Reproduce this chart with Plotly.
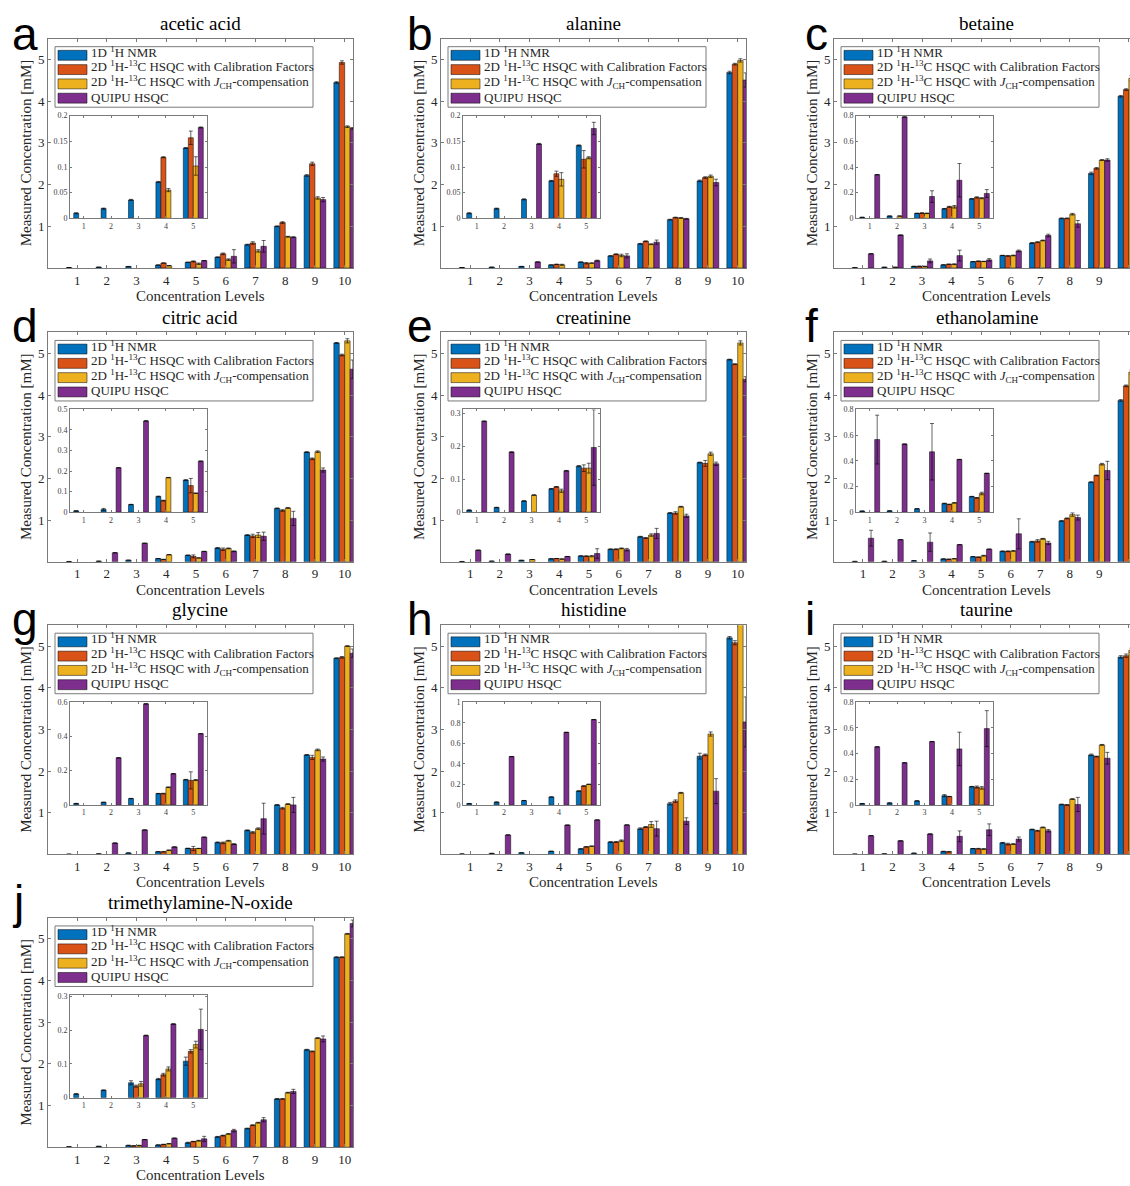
import plotly.graph_objects as go

# ---------------- data ----------------
N = None
levels = [1, 2, 3, 4, 5, 6, 7, 8, 9, 10]
inset_levels = [1, 2, 3, 4, 5]
main_yticks = [1, 2, 3, 4, 5]

series_names = [
    "1D <sup>1</sup>H NMR",
    "2D <sup>1</sup>H-<sup>13</sup>C HSQC with Calibration Factors",
    "2D <sup>1</sup>H-<sup>13</sup>C HSQC with <i>J</i><sub>CH</sub>-compensation",
    "QUIPU HSQC",
]

# a: acetic acid
acetic_nmr = [0.010, 0.019, 0.036, 0.071, 0.137, 0.26, 0.56, 1.00, 2.22, 4.45]
acetic_cal = [N, N, N, 0.119, 0.157, 0.34, 0.60, 1.09, 2.50, 4.93]
acetic_jch = [N, N, N, 0.055, 0.102, 0.20, 0.41, 0.75, 1.68, 3.39]
acetic_quipu = [N, N, N, N, 0.177, 0.28, 0.52, 0.74, 1.64, 3.35]
acetic_nmr_err = [0.001, 0.001, 0.001, 0.001, 0.001, 0.005, 0.01, 0.01, 0.02, 0.02]
acetic_cal_err = [0, 0, 0, 0.001, 0.013, 0.02, 0.03, 0.02, 0.04, 0.04]
acetic_jch_err = [0, 0, 0, 0.003, 0.018, 0.02, 0.03, 0.01, 0.03, 0.02]
acetic_quipu_err = [0, 0, 0, 0, 0.001, 0.16, 0.14, 0.01, 0.05, 0.02]

# b: alanine
alanine_nmr = [0.010, 0.019, 0.037, 0.073, 0.142, 0.29, 0.58, 1.16, 2.09, 4.69]
alanine_cal = [N, N, N, 0.087, 0.115, 0.33, 0.64, 1.21, 2.17, 4.89]
alanine_jch = [N, N, N, 0.076, 0.118, 0.30, 0.57, 1.20, 2.20, 4.98]
alanine_quipu = [N, N, 0.145, N, 0.175, 0.29, 0.62, 1.18, 2.05, 4.51]
alanine_nmr_err = [0.001, 0.001, 0.001, 0.001, 0.001, 0.005, 0.01, 0.01, 0.02, 0.03]
alanine_cal_err = [0, 0, 0, 0.005, 0.017, 0.01, 0.01, 0.01, 0.02, 0.02]
alanine_jch_err = [0, 0, 0, 0.013, 0.002, 0.03, 0.01, 0.01, 0.03, 0.04]
alanine_quipu_err = [0, 0, 0.001, 0, 0.012, 0.05, 0.05, 0.01, 0.08, 0.17]

# c: betaine
betaine_nmr = [0.008, 0.018, 0.039, 0.075, 0.152, 0.30, 0.60, 1.19, 2.27, 4.12]
betaine_cal = [N, N, 0.041, 0.090, 0.163, 0.29, 0.62, 1.19, 2.39, 4.28]
betaine_jch = [N, 0.018, 0.039, 0.090, 0.157, 0.30, 0.66, 1.29, 2.59, 4.55]
betaine_quipu = [0.34, 0.79, 0.17, 0.297, 0.194, 0.41, 0.78, 1.06, 2.59, 4.40]
betaine_nmr_err = [0.001, 0.001, 0.001, 0.002, 0.002, 0.005, 0.01, 0.01, 0.03, 0.02]
betaine_cal_err = [0, 0, 0.003, 0.004, 0.005, 0.01, 0.01, 0.01, 0.02, 0.02]
betaine_jch_err = [0, 0.001, 0.002, 0.01, 0.004, 0.01, 0.01, 0.02, 0.01, 0.06]
betaine_quipu_err = [0.001, 0.001, 0.045, 0.13, 0.03, 0.02, 0.03, 0.08, 0.03, 0.05]

# d: citric acid
citric_nmr = [0.006, 0.013, 0.037, 0.076, 0.156, 0.33, 0.64, 1.28, 2.63, 5.25]
citric_cal = [N, N, N, 0.056, 0.129, 0.30, 0.62, 1.23, 2.47, 4.96]
citric_jch = [N, N, N, 0.168, 0.092, 0.32, 0.64, 1.29, 2.64, 5.30]
citric_quipu = [N, 0.216, 0.444, N, 0.248, 0.25, 0.61, 1.04, 2.20, 4.62]
citric_nmr_err = [0.001, 0.005, 0.001, 0.002, 0.002, 0.01, 0.01, 0.01, 0.01, 0.01]
citric_cal_err = [0, 0, 0, 0.002, 0.035, 0.03, 0.04, 0.02, 0.02, 0.02]
citric_jch_err = [0, 0, 0, 0.001, 0.001, 0.01, 0.06, 0.01, 0.02, 0.05]
citric_quipu_err = [0, 0.001, 0.001, 0, 0.001, 0.01, 0.10, 0.17, 0.05, 0.22]

# e: creatinine
creatinine_nmr = [0.006, 0.014, 0.034, 0.071, 0.140, 0.30, 0.60, 1.17, 2.38, 4.85]
creatinine_cal = [N, N, N, 0.077, 0.134, 0.30, 0.57, 1.17, 2.36, 4.74]
creatinine_jch = [N, N, 0.052, 0.065, 0.134, 0.32, 0.64, 1.32, 2.59, 5.25]
creatinine_quipu = [0.277, 0.183, N, 0.126, 0.197, 0.29, 0.68, 1.10, 2.35, 4.38]
creatinine_nmr_err = [0.001, 0.001, 0.001, 0.001, 0.002, 0.01, 0.01, 0.01, 0.01, 0.01]
creatinine_cal_err = [0, 0, 0, 0.001, 0.01, 0.01, 0.01, 0.03, 0.07, 0.01]
creatinine_jch_err = [0, 0, 0.001, 0.005, 0.015, 0.01, 0.03, 0.01, 0.04, 0.05]
creatinine_quipu_err = [0.001, 0.001, 0, 0.001, 0.115, 0.03, 0.12, 0.04, 0.04, 0.06]

# f: ethanolamine
ethanolamine_nmr = [0.008, 0.010, 0.026, 0.067, 0.121, 0.25, 0.48, 0.98, 1.91, 3.87]
ethanolamine_cal = [N, N, N, 0.060, 0.111, 0.25, 0.50, 1.04, 2.07, 4.22]
ethanolamine_jch = [N, N, N, 0.072, 0.145, 0.26, 0.55, 1.13, 2.34, 4.55]
ethanolamine_quipu = [0.565, 0.530, 0.470, 0.410, 0.302, 0.67, 0.45, 1.06, 2.19, 4.30]
ethanolamine_nmr_err = [0.001, 0.001, 0.001, 0.003, 0.002, 0.01, 0.01, 0.01, 0.01, 0.02]
ethanolamine_cal_err = [0, 0, 0, 0.002, 0.002, 0.01, 0.03, 0.01, 0.01, 0.02]
ethanolamine_jch_err = [0, 0, 0, 0.002, 0.01, 0.01, 0.01, 0.04, 0.02, 0.05]
ethanolamine_quipu_err = [0.19, 0.001, 0.22, 0.001, 0.001, 0.36, 0.04, 0.06, 0.22, 0.05]

# g: glycine
glycine_nmr = [0.008, 0.015, 0.037, 0.066, 0.147, 0.29, 0.58, 1.19, 2.39, 4.71]
glycine_cal = [N, N, N, 0.066, 0.143, 0.28, 0.53, 1.11, 2.33, 4.73]
glycine_jch = [N, N, N, 0.103, 0.145, 0.33, 0.62, 1.21, 2.51, 5.00]
glycine_quipu = [N, 0.275, 0.590, 0.182, 0.416, 0.25, 0.86, 1.19, 2.29, 4.83]
glycine_nmr_err = [0.001, 0.001, 0.001, 0.001, 0.002, 0.01, 0.01, 0.01, 0.01, 0.01]
glycine_cal_err = [0, 0, 0, 0.002, 0.05, 0.02, 0.02, 0.02, 0.05, 0.02]
glycine_jch_err = [0, 0, 0, 0.002, 0.003, 0.01, 0.02, 0.01, 0.02, 0.01]
glycine_quipu_err = [0, 0.001, 0.001, 0.001, 0.001, 0.01, 0.37, 0.18, 0.05, 0.10]

# h: histidine
histidine_nmr = [0.013, 0.026, 0.042, 0.077, 0.135, 0.30, 0.62, 1.22, 2.36, 5.20]
histidine_cal = [N, N, N, N, 0.184, 0.30, 0.66, 1.28, 2.39, 5.08]
histidine_jch = [N, N, N, N, 0.200, 0.33, 0.72, 1.48, 2.89, 5.75]
histidine_quipu = [N, 0.470, N, 0.706, 0.830, 0.71, 0.62, 0.80, 1.52, 3.18]
histidine_nmr_err = [0.001, 0.004, 0.001, 0.001, 0.003, 0.01, 0.02, 0.03, 0.07, 0.03]
histidine_cal_err = [0, 0, 0, 0, 0.002, 0.01, 0.01, 0.03, 0.02, 0.05]
histidine_jch_err = [0, 0, 0, 0, 0.002, 0.02, 0.07, 0.01, 0.05, 0.05]
histidine_quipu_err = [0, 0.001, 0, 0.001, 0.001, 0.001, 0.18, 0.08, 0.30, 0.60]

# i: taurine
taurine_nmr = [0.010, 0.015, 0.031, 0.072, 0.142, 0.28, 0.60, 1.20, 2.39, 4.74]
taurine_cal = [N, N, N, 0.065, 0.139, 0.25, 0.57, 1.19, 2.35, 4.77]
taurine_jch = [N, N, N, N, 0.132, 0.25, 0.65, 1.33, 2.63, 4.90]
taurine_quipu = [0.452, 0.328, 0.493, 0.436, 0.594, 0.37, 0.57, 1.20, 2.31, 4.70]
taurine_nmr_err = [0.001, 0.001, 0.001, 0.008, 0.002, 0.01, 0.01, 0.01, 0.02, 0.03]
taurine_cal_err = [0, 0, 0, 0.001, 0.008, 0.02, 0.01, 0.01, 0.01, 0.04]
taurine_jch_err = [0, 0, 0, 0, 0.01, 0.01, 0.01, 0.01, 0.01, 0.05]
taurine_quipu_err = [0.001, 0.001, 0.001, 0.13, 0.14, 0.05, 0.03, 0.17, 0.14, 0.10]

# j: trimethylamine-N-oxide
tmao_nmr = [0.011, 0.022, 0.044, 0.055, 0.108, 0.25, 0.45, 1.16, 2.34, 4.56]
tmao_cal = [N, N, 0.034, 0.068, 0.137, 0.28, 0.53, 1.16, 2.30, 4.56]
tmao_jch = [N, N, 0.041, 0.085, 0.157, 0.32, 0.59, 1.31, 2.62, 5.12]
tmao_quipu = [N, N, 0.184, 0.218, 0.202, 0.40, 0.66, 1.34, 2.60, 5.37]
tmao_nmr_err = [0.001, 0.001, 0.006, 0.002, 0.012, 0.01, 0.01, 0.01, 0.01, 0.01]
tmao_cal_err = [0, 0, 0.003, 0.004, 0.005, 0.01, 0.01, 0.01, 0.01, 0.01]
tmao_jch_err = [0, 0, 0.007, 0.006, 0.01, 0.01, 0.01, 0.01, 0.01, 0.01]
tmao_quipu_err = [0, 0, 0.001, 0.001, 0.06, 0.03, 0.05, 0.05, 0.07, 0.08]

letters = ["a", "b", "c", "d", "e", "f", "g", "h", "i", "j"]
titles = ["acetic acid", "alanine", "betaine", "citric acid", "creatinine",
          "ethanolamine", "glycine", "histidine", "taurine", "trimethylamine-N-oxide"]
inset_max = [0.2, 0.2, 0.8, 0.5, 0.313, 0.8, 0.6, 1.0, 0.8, 0.304]
ticks_005 = [0, 0.05, 0.1, 0.15, 0.2]
ticks_02_08 = [0, 0.2, 0.4, 0.6, 0.8]
ticks_01_05 = [0, 0.1, 0.2, 0.3, 0.4, 0.5]
ticks_01_03 = [0, 0.1, 0.2, 0.3]
ticks_02_06 = [0, 0.2, 0.4, 0.6]
ticks_02_10 = [0, 0.2, 0.4, 0.6, 0.8, 1]
inset_ticks = [ticks_005, ticks_005, ticks_02_08, ticks_01_05, ticks_01_03,
               ticks_02_08, ticks_02_06, ticks_02_10, ticks_02_08, ticks_01_03]

panel_values = [
    [acetic_nmr, acetic_cal, acetic_jch, acetic_quipu],
    [alanine_nmr, alanine_cal, alanine_jch, alanine_quipu],
    [betaine_nmr, betaine_cal, betaine_jch, betaine_quipu],
    [citric_nmr, citric_cal, citric_jch, citric_quipu],
    [creatinine_nmr, creatinine_cal, creatinine_jch, creatinine_quipu],
    [ethanolamine_nmr, ethanolamine_cal, ethanolamine_jch, ethanolamine_quipu],
    [glycine_nmr, glycine_cal, glycine_jch, glycine_quipu],
    [histidine_nmr, histidine_cal, histidine_jch, histidine_quipu],
    [taurine_nmr, taurine_cal, taurine_jch, taurine_quipu],
    [tmao_nmr, tmao_cal, tmao_jch, tmao_quipu],
]
panel_errors = [
    [acetic_nmr_err, acetic_cal_err, acetic_jch_err, acetic_quipu_err],
    [alanine_nmr_err, alanine_cal_err, alanine_jch_err, alanine_quipu_err],
    [betaine_nmr_err, betaine_cal_err, betaine_jch_err, betaine_quipu_err],
    [citric_nmr_err, citric_cal_err, citric_jch_err, citric_quipu_err],
    [creatinine_nmr_err, creatinine_cal_err, creatinine_jch_err, creatinine_quipu_err],
    [ethanolamine_nmr_err, ethanolamine_cal_err, ethanolamine_jch_err, ethanolamine_quipu_err],
    [glycine_nmr_err, glycine_cal_err, glycine_jch_err, glycine_quipu_err],
    [histidine_nmr_err, histidine_cal_err, histidine_jch_err, histidine_quipu_err],
    [taurine_nmr_err, taurine_cal_err, taurine_jch_err, taurine_quipu_err],
    [tmao_nmr_err, tmao_cal_err, tmao_jch_err, tmao_quipu_err],
]

# ---------------- styling ----------------
colors = ["#0072BD", "#D95319", "#EDB120", "#7E2F8E"]
SERIF = "Liberation Serif"
SANS = "Liberation Sans"
TXT = "#262626"
LINE = "#7a7a7a"
ERRC = "rgba(0,0,0,0.6)"

W, H = 1130, 1186
col_left = [48, 441, 834]
row_top = [35, 331, 626, 921]
letter_x = [10, 405, 803]
letter_base = [47, 342, 637, 922]
AX_W, AX_H = 305, 231


def px(x):
    return x / W


def py(y):
    return 1 - y / H


def axkey(a, k):
    return f"{a}axis" + ("" if k == 1 else str(k))


def axref(a, k):
    return a + ("" if k == 1 else str(k))


fig = go.Figure()
layout_axes = {}
annotations = []
shapes = []

for i in range(10):
    r, c = divmod(i, 3)
    L = col_left[c]
    T = row_top[r]
    R = min(L + AX_W, W)
    B = T + AX_H
    km, ki = 2 * i + 1, 2 * i + 2
    vals = panel_values[i]
    errs = panel_errors[i]

    # main bars
    for s in range(4):
        fig.add_trace(go.Bar(
            x=levels, y=vals[s], name=series_names[s], showlegend=False,
            xaxis=axref("x", km), yaxis=axref("y", km),
            marker=dict(color=colors[s], line=dict(color="black", width=0.5)),
            error_y=dict(type="data", array=errs[s], color=ERRC, thickness=1, width=2),
        ))
    # inset bars
    for s in range(4):
        fig.add_trace(go.Bar(
            x=inset_levels, y=vals[s][:5], name=series_names[s], showlegend=False,
            xaxis=axref("x", ki), yaxis=axref("y", ki),
            marker=dict(color=colors[s], line=dict(color="black", width=0.5)),
            error_y=dict(type="data", array=errs[s][:5], color=ERRC, thickness=1, width=2),
        ))

    xr = [0.02, 10.28] if c < 2 else [0.02, 10.04]
    layout_axes[axkey("x", km)] = dict(
        domain=[px(L), px(R)], range=xr, anchor=axref("y", km),
        tickmode="array", tickvals=levels, ticks="inside", ticklen=3,
        tickcolor=LINE, showline=True, linecolor=LINE, linewidth=1,
        mirror="ticks", showgrid=False, zeroline=False,
        tickfont=dict(family=SERIF, size=13, color=TXT),
    )
    layout_axes[axkey("y", km)] = dict(
        domain=[py(B), py(T)], range=[0, 5.5], anchor=axref("x", km),
        tickmode="array", tickvals=main_yticks, ticks="inside", ticklen=3,
        tickcolor=LINE, showline=True, linecolor=LINE, linewidth=1,
        mirror="ticks" if c < 2 else False, showgrid=False, zeroline=False,
        tickfont=dict(family=SERIF, size=13, color=TXT),
    )

    IL, IR, IT, IB = L + 22, L + 159, T + 77.5, T + 181
    layout_axes[axkey("x", ki)] = dict(
        domain=[px(IL), px(IR)], range=[0.5, 5.5], anchor=axref("y", ki),
        tickmode="array", tickvals=inset_levels, ticks="inside", ticklen=2,
        tickcolor=LINE, showline=True, linecolor=LINE, linewidth=1,
        mirror="ticks", showgrid=False, zeroline=False,
        tickfont=dict(family=SERIF, size=8, color="#404040"),
    )
    layout_axes[axkey("y", ki)] = dict(
        domain=[py(IB), py(IT)], range=[0, inset_max[i]], anchor=axref("x", ki),
        tickmode="array", tickvals=inset_ticks[i], ticks="inside", ticklen=2,
        tickcolor=LINE, showline=True, linecolor=LINE, linewidth=1,
        mirror="ticks", showgrid=False, zeroline=False,
        tickfont=dict(family=SERIF, size=8, color="#404040"),
    )

    # title, axis labels, panel letter
    cx = L + AX_W / 2
    annotations.append(dict(x=px(cx), y=py(T - 15.5), xref="paper", yref="paper",
                            text=titles[i], showarrow=False, xanchor="center", yanchor="middle",
                            font=dict(family=SERIF, size=19, color="black")))
    annotations.append(dict(x=px(cx), y=py(B + 28), xref="paper", yref="paper",
                            text="Concentration Levels", showarrow=False,
                            xanchor="center", yanchor="middle",
                            font=dict(family=SERIF, size=15, color=TXT)))
    annotations.append(dict(x=px(L - 22), y=py(T + AX_H / 2), xref="paper", yref="paper",
                            text="Measured Concentration [mM]", showarrow=False, textangle=-90,
                            xanchor="center", yanchor="middle",
                            font=dict(family=SERIF, size=15, color=TXT)))
    annotations.append(dict(x=px(letter_x[c]), y=py(letter_base[r] + 11), xref="paper", yref="paper",
                            text=letters[i], showarrow=False, xanchor="left", yanchor="bottom",
                            font=dict(family=SANS, size=46, color="black")))

    # legend box (MATLAB-style)
    LL, LT = L + 7, T + 8
    shapes.append(dict(type="rect", xref="paper", yref="paper",
                       x0=px(LL), x1=px(L + 265), y0=py(T + 69), y1=py(LT),
                       line=dict(color=LINE, width=1), fillcolor="white", layer="above"))
    for s in range(4):
        yc = T + 16.7 + 14.4 * s
        shapes.append(dict(type="rect", xref="paper", yref="paper",
                           x0=px(L + 10), x1=px(L + 39), y0=py(yc + 5), y1=py(yc - 5),
                           line=dict(color="black", width=0.5), fillcolor=colors[s], layer="above"))
        shift = 3.5 if s in (0, 1) else (1.5 if s == 2 else 1)
        annotations.append(dict(x=px(L + 41), y=py(yc - shift), xref="paper", yref="paper",
                                text=series_names[s], showarrow=False, xanchor="left", yanchor="middle",
                                font=dict(family=SERIF, size=13, color=TXT)))

fig.update_layout(
    width=W, height=H, margin=dict(l=0, r=0, t=0, b=0),
    paper_bgcolor="white", plot_bgcolor="white",
    barmode="group", bargap=0.27, bargroupgap=0,
    showlegend=False, annotations=annotations, shapes=shapes,
    **layout_axes,
)

fig.write_html("out.html", config={"displayModeBar": False},
               post_script="document.body.style.margin='0';")
